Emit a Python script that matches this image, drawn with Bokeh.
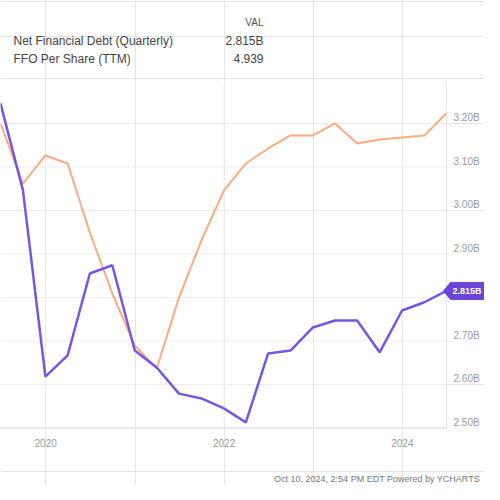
import pandas as pd
from bokeh.plotting import figure
from bokeh.models import Range1d
from bokeh.embed import file_html
from bokeh.resources import INLINE
from bokeh.core.properties import value

# ---------------- data ----------------
quarters = ["2019-06-30", "2019-09-30", "2019-12-31",
            "2020-03-31", "2020-06-30", "2020-09-30", "2020-12-31",
            "2021-03-31", "2021-06-30", "2021-09-30", "2021-12-31",
            "2022-03-31", "2022-06-30", "2022-09-30", "2022-12-31",
            "2023-03-31", "2023-06-30", "2023-09-30", "2023-12-31",
            "2024-03-31", "2024-06-30"]
net_debt_b = [3.246, 3.046, 2.618,
              2.667, 2.855, 2.874, 2.678,
              2.639, 2.579, 2.568, 2.545,
              2.513, 2.671, 2.678, 2.731,
              2.747, 2.747, 2.674, 2.770,
              2.789, 2.815]
ffo_per_share = [4.777, 3.835, 4.275,
                 4.149, 3.067, 2.110, 1.294,
                 0.933, 2.047, 2.941, 3.726,
                 4.149, 4.385, 4.589, 4.589,
                 4.777, 4.463, 4.526, 4.557,
                 4.589, 4.939]
y_ticks = [2.5, 2.6, 2.7, 2.8, 2.9, 3.0, 3.1, 3.2]
y_tick_labels = ["2.50B", "2.60B", "2.70B", "2.80B", "2.90B", "3.00B", "3.10B", "3.20B"]
x_tick_dates = ["2020-01-01", "2022-01-01", "2024-01-01"]
x_tick_labels = ["2020", "2022", "2024"]
legend_names = ["Net Financial Debt (Quarterly)", "FFO Per Share (TTM)"]
legend_values = ["2.815B", "4.939"]
legend_header = "VAL"
callout_text = "2.815B"
footer_text = "Oct 10, 2024, 2:54 PM EDT  Powered by YCHARTS"

# axis extents of the chart (value space)
debt_min, debt_max = 2.5, 3.294
ffo_min, ffo_max = 0.0, 5.42

# ---------------- layout (pixels) ----------------
W, H = 484, 484
PLOT_L, PLOT_R, PLOT_T, PLOT_B = 0, 446, 82, 427.5

FONT = "Liberation Sans"
PURPLE = "#7657e0"
PURPLE_DARK = "#6a45d8"
ORANGE = "#fbab80"
GRID = "#ececec"

dates = pd.to_datetime(quarters)
tick_dates = pd.to_datetime(x_tick_dates)
span = dates[-1] - dates[0]
px_w = PLOT_R - PLOT_L
px_h = PLOT_B - PLOT_T
x_end = dates[-1] + span * ((W - PLOT_R) / px_w)
upp = (debt_max - debt_min) / px_h
fpp = (ffo_max - ffo_min) / px_h

p = figure(width=W, height=H, x_axis_type="datetime",
           x_range=Range1d(dates[0], x_end),
           y_range=Range1d(debt_min - (H - PLOT_B) * upp, debt_max + PLOT_T * upp),
           x_axis_location=None, y_axis_location=None,
           output_backend="svg", toolbar_location=None, min_border=0)
p.min_border_left = p.min_border_right = p.min_border_top = p.min_border_bottom = 0
p.outline_line_color = None
p.extra_y_ranges = {"ffo": Range1d(ffo_min - (H - PLOT_B) * fpp, ffo_max + PLOT_T * fpp),
                    "px": Range1d(H, 0)}
p.extra_x_ranges = {"px": Range1d(0, W)}

# legend strip
p.segment(x0=[0, 0], x1=[W, W], y0=[1, 78], y1=[1, 78], x_range_name="px", y_range_name="px",
          line_color="#e2e2e2", line_width=1)
p.text(x=[263], y=[22], text=[legend_header], x_range_name="px", y_range_name="px",
       text_align="right", text_baseline="middle",
       text_font=value(FONT), text_font_size="10px", text_color="#555555")
p.text(x=[13, 13], y=[40, 58], text=legend_names, x_range_name="px", y_range_name="px",
       text_align="left", text_baseline="middle",
       text_font=value(FONT), text_font_size="12px", text_color="#444444")
p.text(x=[263, 263], y=[40, 58], text=legend_values, x_range_name="px", y_range_name="px",
       text_align="right", text_baseline="middle",
       text_font=value(FONT), text_font_size="12px", text_color="#444444")

# grid
n = len(y_ticks)
p.segment(x0=[dates[0]] * n, x1=[dates[-1]] * n, y0=y_ticks, y1=y_ticks,
          line_color=GRID, line_width=1)
p.segment(x0=tick_dates, x1=tick_dates, y0=[debt_min] * 3, y1=[debt_max] * 3,
          line_color=GRID, line_width=1)
# axis lines
p.segment(x0=[dates[0]], x1=[dates[-1]], y0=[debt_min], y1=[debt_min],
          line_color="#dcdcdc", line_width=1)
p.segment(x0=[dates[-1]], x1=[dates[-1]], y0=[debt_min], y1=[debt_max],
          line_color="#e4e4e4", line_width=1)

# series
p.line(dates, ffo_per_share, y_range_name="ffo", line_color=ORANGE, line_width=2)
p.line(dates, net_debt_b, line_color=PURPLE, line_width=2.5)

# axis tick labels
p.text(x=[dates[-1]] * n, y=y_ticks, text=y_tick_labels, x_offset=7,
       text_align="left", text_baseline="bottom",
       text_font=value(FONT), text_font_size="10px", text_color="#9a9a9a")
p.text(x=tick_dates, y=[442] * 3, y_range_name="px", text=x_tick_labels,
       text_align="center", text_baseline="middle",
       text_font=value(FONT), text_font_size="10px", text_color="#9a9a9a")

# callout tag for the last value
px = span / px_w
ly = net_debt_b[-1]
hh = 8.5 * upp
tag_x = pd.DatetimeIndex([dates[-1] - 3 * px, dates[-1] + 4 * px, dates[-1] + 60 * px,
                          dates[-1] + 60 * px, dates[-1] + 4 * px])
tag_y = [ly, ly + hh, ly + hh, ly - hh, ly - hh]
p.patch(tag_x, tag_y, fill_color=PURPLE_DARK, line_color=PURPLE_DARK)
p.text(x=[dates[-1]], y=[ly], text=[callout_text], x_offset=6,
       text_align="left", text_baseline="middle",
       text_font=value(FONT), text_font_size="9px", text_font_style="bold",
       text_color="white")

# footer
p.text(x=[W - 2], y=[478], x_range_name="px", y_range_name="px", text=[footer_text],
       text_align="right", text_baseline="middle",
       text_font=value(FONT), text_font_size="9px", text_color="#777777")

open("out.html", "w").write(file_html(p, INLINE))
